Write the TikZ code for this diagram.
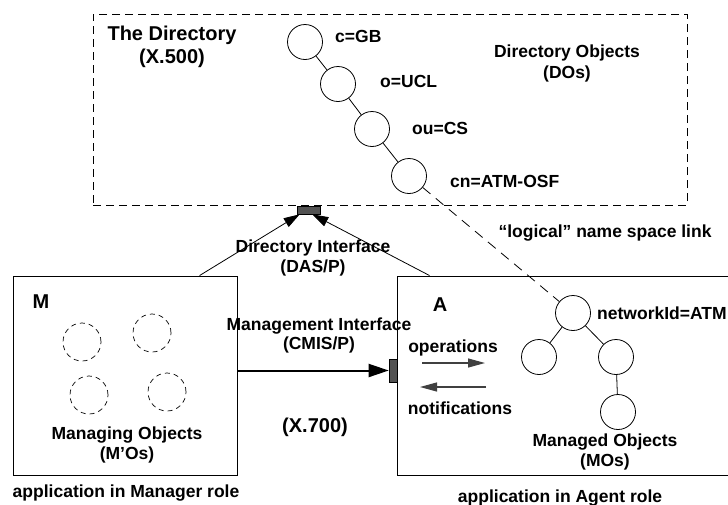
\documentclass[tikz,border=0pt]{standalone}
\usepackage{fontspec}
\setmainfont{Liberation Sans}
\usetikzlibrary{arrows.meta,calc}
\begin{document}
\begin{tikzpicture}[x=1pt,y=-1pt,
  lbl/.style={font=\bfseries\fontsize{17.5}{20}\selectfont, align=center, inner sep=0pt},
  big/.style={font=\bfseries\fontsize{20}{24}\selectfont, align=center, inner sep=0pt},
  obj/.style={circle, draw, minimum size=35pt, inner sep=0pt, line width=0.8pt},
  dobj/.style={circle, draw, dash pattern=on 5pt off 4pt, minimum size=38pt, inner sep=0pt, line width=0.7pt},
  box/.style={draw, line width=0.9pt, inner sep=0pt, fill=white},
  dbox/.style={draw, dash pattern=on 8pt off 5pt, line width=0.8pt, inner sep=0pt},
  iface/.style={draw, fill=black!68, line width=0.6pt, inner sep=0pt},
  tip/.style={line width=0.8pt, -{Triangle[length=16pt,width=10pt]}},
  smalltip/.style={line width=1.2pt, draw=black!75, -{Triangle[length=17pt,width=9pt]}},
]
\useasboundingbox (0,0) rectangle (728,504);
\clip (0,0) rectangle (728,504);

% Directory box
\node[dbox, minimum width=594pt, minimum height=191pt] (dir) at (390,109.5) {};
\node[big] (dirtitle) at (172,47) {The Directory\\[-1pt](X.500)};
\node[lbl] (dolbl) at (567,63.5) {Directory Objects\\[1pt](DOs)};

% Directory objects
\node[obj] (d1) at (305,42) {};
\node[obj] (d2) at (338,84) {};
\node[obj] (d3) at (372,129) {};
\node[obj] (d4) at (409,176) {};
\draw[line width=0.8pt] (d1) -- (d2);
\draw[line width=0.8pt] (d2) -- (d3);
\draw[line width=0.8pt] (d3) -- (d4);
\node[lbl, anchor=west] (l1) at (335,36) {c=GB};
\node[lbl, anchor=west] (l2) at (380,81) {o=UCL};
\node[lbl, anchor=west] (l3) at (412,128) {ou=CS};
\node[lbl, anchor=west] (l4) at (450,181) {cn=ATM-OSF};

% Manager and Agent boxes
\node[box, minimum width=224pt, minimum height=199pt] (M) at (125,375.5) {};
\node[box, minimum width=348pt, minimum height=199pt] (A) at (571,375.5) {};

% interfaces
\node[iface, minimum width=23pt, minimum height=8pt] (dirif) at (308.5,210) {};
\node[iface, minimum width=8pt, minimum height=23pt] (mgif) at (393,370.5) {};

% directory interface arrows
\draw[tip] ([xshift=187pt]M.north west) -- ([xshift=3pt]dirif.south west);
\draw[tip] ([xshift=33pt]A.north west) -- ([xshift=-8pt]dirif.south east);
\node[lbl] (dirinf) at (313,258) {Directory Interface\\(DAS/P)};

% management interface arrow
\draw[line width=2pt, -{Triangle[length=20pt,width=13pt]}] (M.east |- mgif) -- (mgif.west);
\node[lbl] (mginf) at (319,335.5) {Management Interface\\[-1pt](CMIS/P)};
\node[big] (x700) at (315,427) {(X.700)};

% M content
\node[big] (Mlbl) at (41,302) {M};
\node[dobj] (m1) at (82,342) {};
\node[dobj] (m2) at (152,333) {};
\node[dobj] (m3) at (89,395) {};
\node[dobj] (m4) at (167,392) {};
\node[lbl] (mos) at (127,445) {Managing Objects\\(M’Os)};
\node[lbl] (mrole) at (126,493) {application in Manager role};

% A content
\node[big] (Albl) at (440,305) {A};
\node[lbl] (ops) at (453,348) {operations};
\node[lbl] (notif) at (460,408) {notifications};
\coordinate (op1) at (422,363);
\coordinate (op2) at (485,363);
\coordinate (nt1) at (486,387);
\coordinate (nt2) at (420,387);
\draw[smalltip] (op1) -- (op2);
\draw[smalltip] (nt1) -- (nt2);

\node[obj] (n0) at (573,313) {};
\node[obj] (n1) at (539,357) {};
\node[obj] (n2) at (616,357) {};
\node[obj] (n3) at (618,412) {};
\draw[line width=0.8pt] (n0) -- (n1);
\draw[line width=0.8pt] (n0) -- (n2);
\draw[line width=0.8pt] (n2) -- (n3);
\node[lbl, anchor=west] (nid) at (597,313) {networkId=ATM};
\node[lbl] (mobj) at (605,452) {Managed Objects\\(MOs)};
\node[lbl] (arole) at (560,498) {application in Agent role};

% logical link
\draw[line width=0.8pt, dash pattern=on 10pt off 7pt] (d4) -- (n0);
\node[lbl] (loglink) at (605,233) {“logical” name space link};
\end{tikzpicture}
\end{document}
